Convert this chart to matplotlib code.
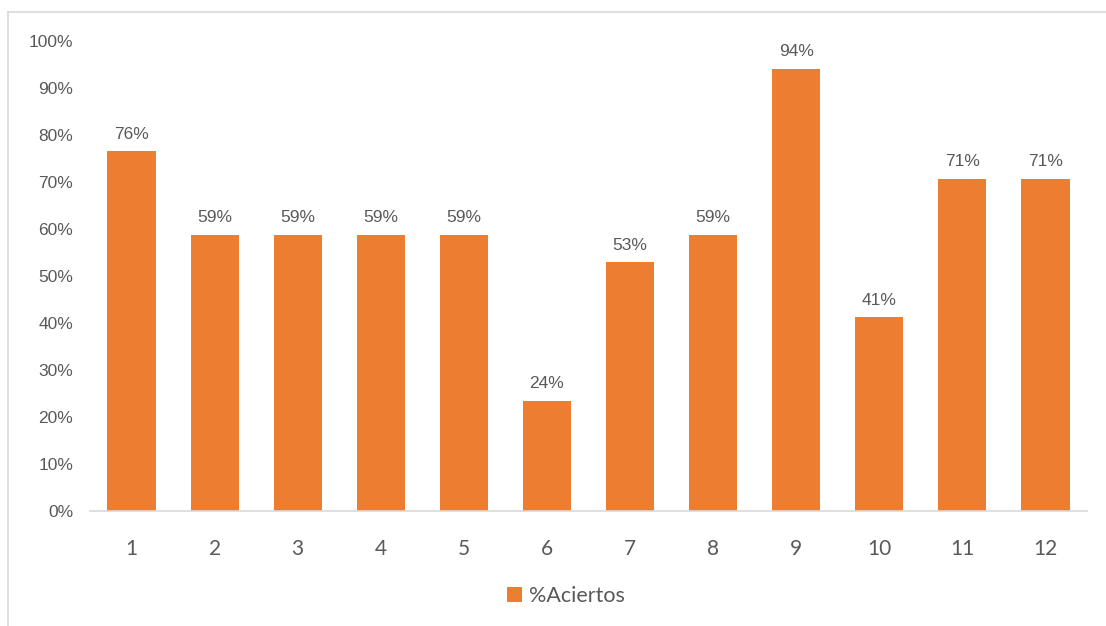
import matplotlib
matplotlib.use("Agg")
import matplotlib.pyplot as plt
from matplotlib.lines import Line2D
from matplotlib.ticker import PercentFormatter

# data
preguntas = ["1", "2", "3", "4", "5", "6", "7", "8", "9", "10", "11", "12"]
aciertos = [0.765, 0.588, 0.588, 0.588, 0.588, 0.235, 0.529, 0.588, 0.941, 0.412, 0.706, 0.706]
etiquetas = ["76%", "59%", "59%", "59%", "59%", "24%", "53%", "59%", "94%", "41%", "71%", "71%"]

W, H = 1106, 626
naranja = "#ED7D31"
gris_txt = "#595959"
gris_lin = "#D9D9D9"

fig = plt.figure(figsize=(W / 100, H / 100), dpi=100)
ax = fig.add_axes([90 / W, 1 - 511 / H, (1087 - 90) / W, (511 - 41) / H])

x = range(len(preguntas))
bars = ax.bar(x, aciertos, width=0.58, color=naranja, label="%Aciertos", zorder=2)

for xi, v, t in zip(x, aciertos, etiquetas):
    ax.annotate(t, (xi, v), xytext=(0, 7), textcoords="offset points",
                ha="center", va="bottom", fontsize=12.5, color=gris_txt,
                family="Liberation Sans")

ax.set_xlim(-0.5, len(preguntas) - 0.5)
ax.set_ylim(0, 1.0)
ax.set_yticks([i / 10 for i in range(11)])
ax.yaxis.set_major_formatter(PercentFormatter(1.0, decimals=0))
ax.set_xticks(list(x))
ax.set_xticklabels(preguntas)

for s in ["top", "right", "left"]:
    ax.spines[s].set_visible(False)
ax.spines["bottom"].set_color(gris_lin)
ax.spines["bottom"].set_linewidth(1.2)
ax.tick_params(axis="both", length=0, colors=gris_txt)
ax.tick_params(axis="y", labelsize=12.5, pad=12)
ax.tick_params(axis="x", labelsize=15, pad=20)
for lab in ax.get_yticklabels():
    lab.set_family("Liberation Sans")
for lab in ax.get_xticklabels():
    lab.set_family("Lato")

leg = fig.legend(handles=[bars], labels=["%Aciertos"], loc="center",
                 bbox_to_anchor=(566 / W, 1 - 596 / H), frameon=False,
                 handlelength=0.7, handleheight=0.7, handletextpad=0.3,
                 prop={"family": "Lato", "size": 15.5})
for t in leg.get_texts():
    t.set_color(gris_txt)

# chart border (top and left visible in the crop)
fig.add_artist(Line2D([8 / W, 1], [1 - 12 / H, 1 - 12 / H], color=gris_lin, lw=1.2,
                      transform=fig.transFigure))
fig.add_artist(Line2D([8 / W, 8 / W], [0, 1 - 12 / H], color=gris_lin, lw=1.2,
                      transform=fig.transFigure))

fig.savefig("out.png", dpi=100)
